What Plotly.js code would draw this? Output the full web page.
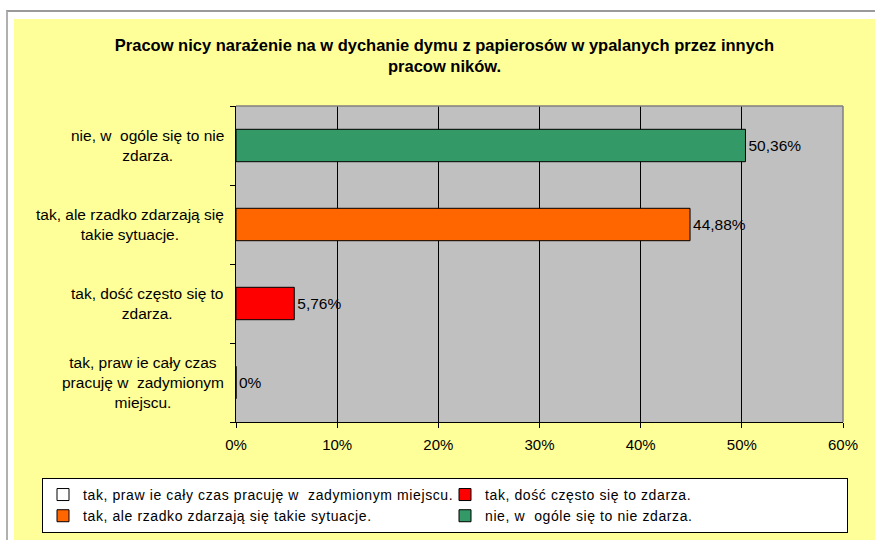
<!DOCTYPE html>
<html>
<head>
<meta charset="utf-8">
<script src="https://cdn.plot.ly/plotly-3.0.1.min.js"></script>
<style>
  html, body { margin: 0; padding: 0; background: #ffffff; width: 875px; height: 540px; overflow: hidden; }
  #frame { position: absolute; left: 6px; top: 10px; width: 869px; height: 530px; border-top: 2px solid #9a9a9a; border-left: 2px solid #b0b0b0; }
  #chart { position: absolute; left: 14px; top: 19px; width: 861px; height: 540px; }
  #chart .legendtext { letter-spacing: 0.6px; }
</style>
</head>
<body>
<div id="frame"></div>
<div id="chart"></div>
<script>
// Categories (bottom to top on the chart) and legend names
const categories = [
  "tak, praw ie cały czas<br>pracuję w  zadymionym<br>miejscu.",
  "tak, dość często się to<br>zdarza.",
  "tak, ale rzadko zdarzają się<br>takie sytuacje.",
  "nie, w  ogóle się to nie<br>zdarza."
];
const legendNames = [
  "tak, praw ie cały czas pracuję w  zadymionym miejscu.",
  "tak, dość często się to zdarza.",
  "tak, ale rzadko zdarzają się takie sytuacje.",
  "nie, w  ogóle się to nie zdarza."
];
const values = [0, 5.76, 44.88, 50.36];
const colors = ["#FFFFFF", "#FF0000", "#FF6600", "#339966"];
const xTickValues = [0, 10, 20, 30, 40, 50, 60];
const xTickLabels = ["0%", "10%", "20%", "30%", "40%", "50%", "60%"];

const FONT = "Liberation Sans, Arial, sans-serif";

function fmt(v) {
  return v === 0 ? "0%" : v.toFixed(2).replace(".", ",") + "%";
}

const traces = categories.map((c, i) => ({
  type: "bar",
  orientation: "h",
  y: [c],
  x: [values[i]],
  name: legendNames[i],
  width: 0.41,
  marker: { color: colors[i], line: { color: "#000000", width: 1 } },
  text: [fmt(values[i])],
  textposition: "outside",
  textfont: { family: FONT, size: 15.5, color: "#000000" },
  cliponaxis: false,
  hoverinfo: "none"
}));

const annotations = categories.map(c => ({
  xref: "x", yref: "y",
  x: 0, y: c,
  text: c,
  showarrow: false,
  xanchor: "right",
  align: "center",
  xshift: -10,
  font: { family: FONT, size: 15.5, color: "#000000" }
}));

const layout = {
  width: 861,
  height: 540,
  paper_bgcolor: "#FFFF99",
  plot_bgcolor: "#C0C0C0",
  margin: { l: 222, r: 32, t: 87, b: 137, pad: 0 },
  font: { family: FONT, size: 15, color: "#000000" },
  title: {
    text: "Pracow nicy narażenie na w dychanie dymu z papierosów w ypalanych przez innych<br>pracow ników.",
    font: { family: FONT, size: 16.5, color: "#000000", weight: "bold" },
    x: 0.5, xref: "container",
    y: 1 - 32 / 540, yref: "container", yanchor: "top"
  },
  barmode: "overlay",
  showlegend: true,
  legend: {
    orientation: "h",
    x: -0.3196, xanchor: "left",
    y: -0.177, yanchor: "top",
    bgcolor: "#FFFFFF",
    bordercolor: "#000000",
    borderwidth: 1,
    entrywidth: 357,
    entrywidthmode: "pixels",
    traceorder: "normal",
    itemclick: false,
    font: { family: FONT, size: 14, color: "#000000" }
  },
  xaxis: {
    range: [0, 60],
    tickvals: xTickValues,
    ticktext: xTickLabels,
    showgrid: true,
    gridcolor: "#000000",
    gridwidth: 1,
    zeroline: false,
    showline: true,
    linecolor: "#000000",
    linewidth: 1,
    ticks: "outside",
    ticklen: 5,
    tickcolor: "#000000",
    ticklabelstandoff: 4,
    tickfont: { family: FONT, size: 15, color: "#000000" },
    fixedrange: true
  },
  yaxis: {
    type: "category",
    categoryorder: "array",
    categoryarray: categories,
    range: [-0.5, categories.length - 0.5],
    showticklabels: false,
    showgrid: false,
    zeroline: false,
    showline: true,
    linecolor: "#000000",
    linewidth: 1,
    ticks: "outside",
    tickson: "boundaries",
    ticklen: 5,
    tickcolor: "#000000",
    fixedrange: true
  },
  shapes: [
    { type: "line", xref: "paper", yref: "paper", x0: 0, x1: 1, y0: 1, y1: 1, line: { color: "#808080", width: 1.5 }, layer: "above" },
    { type: "line", xref: "paper", yref: "paper", x0: 1, x1: 1, y0: 0, y1: 1, line: { color: "#808080", width: 1.5 }, layer: "above" }
  ],
  annotations: annotations
};

Plotly.newPlot("chart", traces, layout, { displayModeBar: false, staticPlot: true });
</script>
</body>
</html>
